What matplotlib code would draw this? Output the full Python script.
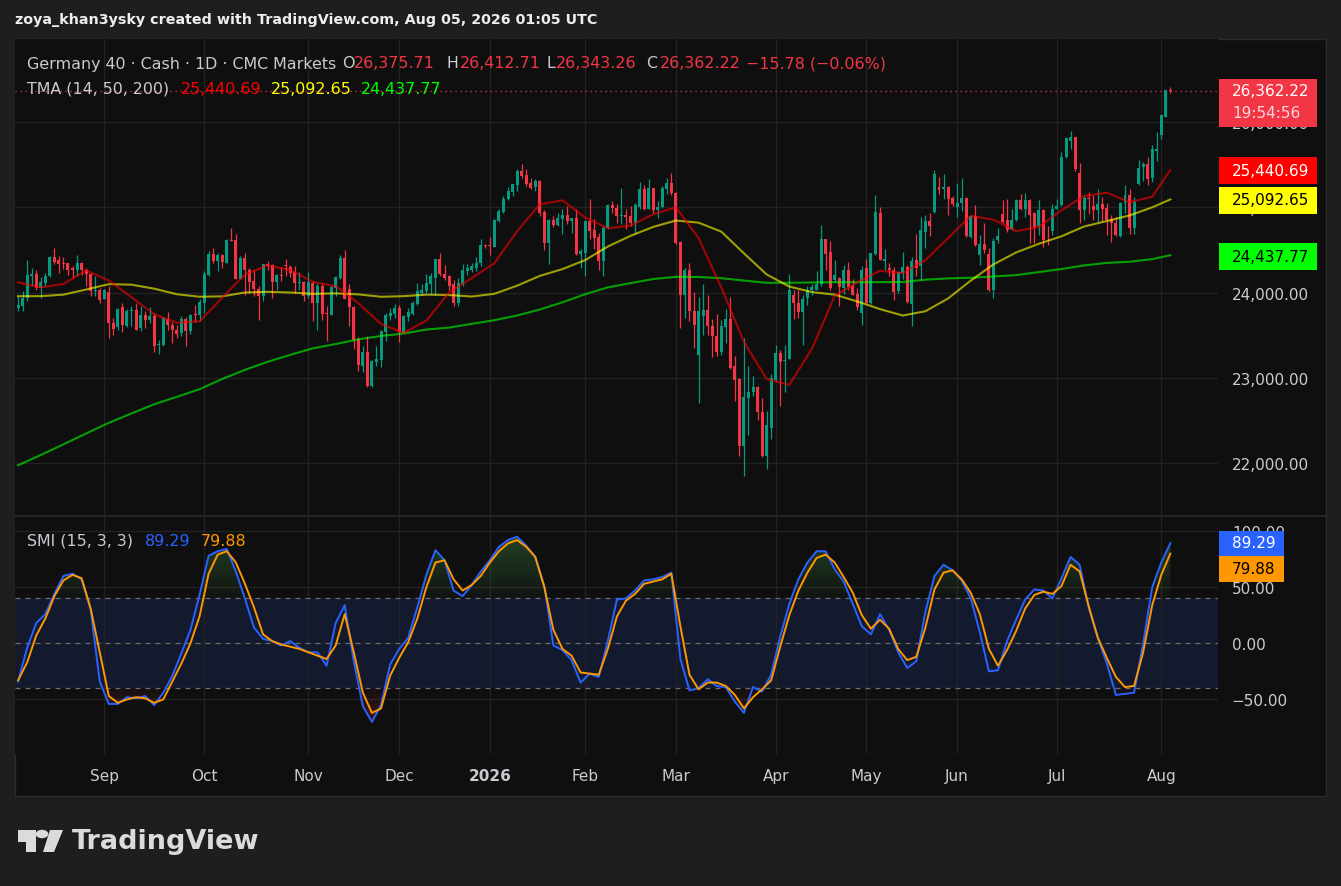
import numpy as np
import pandas as pd
import matplotlib
matplotlib.use("Agg")
import matplotlib.pyplot as plt
from matplotlib.patches import Rectangle, Polygon, Circle
from matplotlib.lines import Line2D
from matplotlib.path import Path
from matplotlib.ticker import FuncFormatter

plt.rcParams['font.family'] = 'DejaVu Sans'

# ---------------- data ----------------
start_day, end_day = '2025-08-05', '2026-08-05'
holidays = ['2025-12-24', '2025-12-25', '2025-12-26', '2026-01-01',
            '2026-04-03', '2026-04-06', '2026-05-01']

open_ = [23820, 23847, 23937, 24192, 24220, 24055, 24106, 24192, 24416, 24376,
         24341, 24341, 24290, 24270, 24341, 24270, 24212, 24016, 24035, 23929,
         24004, 23643, 23592, 23824, 23604, 23780, 23800, 23584, 23741, 23682,
         23722, 23388, 23380, 23694, 23624, 23565, 23526, 23694, 23553, 23745,
         23733, 23871, 24200, 24447, 24368, 24435, 24349, 24615, 24615, 24161,
         24400, 24270, 24133, 24043, 23957, 24329, 24318, 24122, 24200, 24318,
         24298, 24239, 24114, 24122, 23957, 24114, 23871, 24082, 23765, 23741,
         24055, 24165, 24400, 24043, 23831, 23459, 23141, 23298, 22898, 23189,
         23212, 23537, 23722, 23753, 23820, 23526, 23714, 23753, 23863, 23996,
         24012, 24098, 24176, 24388, 24223, 24192, 24094, 23871, 24102, 24251,
         24270, 24286, 24341, 24557, 24553, 24533, 24839, 24945, 25094, 25184,
         25262, 25427, 25376, 25282, 25239, 25309, 24945, 24576, 24851, 24788,
         24866, 24905, 24839, 24870, 24447, 24466, 24839, 24733, 24655, 24368,
         24753, 25023, 24996, 24902, 24906, 24898, 24811, 25007, 25211, 24984,
         25223, 24968, 25004, 25211, 25282, 25172, 24592, 23969, 24259, 23788,
         23263, 23722, 23800, 23612, 23494, 23302, 23596, 23694, 23134, 22989,
         22193, 22761, 22828, 22891, 22597, 22076, 22405, 22977, 23290, 23196,
         23224, 23976, 23871, 23769, 23937, 24035, 24035, 24094, 24623, 24478,
         24145, 24172, 24055, 24259, 24074, 23984, 23761, 24290, 23871, 24447,
         24929, 24368, 24282, 24270, 24016, 24231, 24302, 23863, 24376, 24310,
         24710, 24835, 24945, 25239, 25211, 25239, 25105, 25004, 25055, 25109,
         24651, 24898, 24439, 24564, 24447, 24035, 24612, 24917, 24847, 24741,
         24847, 25082, 24976, 25082, 24929, 24780, 24964, 24737, 24721, 24984,
         25023, 25595, 25780, 25823, 25407, 24968, 25109, 25015, 24964, 25035,
         24988, 24858, 24819, 24662, 25047, 25141, 24753, 25270, 25474, 25505,
         25341, 25662, 25846, 26066, 26375.71]

high_ = [23957, 24016, 24376, 24290, 24270, 24180, 24231, 24427, 24525, 24427,
         24419, 24349, 24310, 24435, 24357, 24290, 24231, 24192, 24055, 24043,
         24074, 23702, 23820, 23878, 23808, 23847, 23871, 23839, 23780, 23831,
         23761, 23447, 23710, 23773, 23655, 23624, 23722, 23710, 23753, 23859,
         23918, 24251, 24486, 24525, 24466, 24447, 24623, 24760, 24682, 24427,
         24466, 24290, 24270, 24074, 24329, 24368, 24329, 24212, 24298, 24388,
         24318, 24310, 24239, 24133, 24239, 24133, 24114, 24094, 23839, 24074,
         24192, 24435, 24494, 24094, 23839, 23475, 23369, 23494, 23212, 23377,
         23565, 23761, 23820, 23867, 23859, 23733, 23820, 23898, 24114, 24094,
         24212, 24231, 24395, 24466, 24318, 24200, 24141, 24172, 24329, 24329,
         24349, 24419, 24623, 24572, 24655, 24866, 24976, 25133, 25243, 25278,
         25454, 25505, 25446, 25348, 25337, 25315, 24964, 24858, 24898, 24929,
         24976, 25015, 24878, 24976, 24506, 24847, 25094, 24866, 24702, 24780,
         25035, 25074, 25035, 25223, 24976, 25015, 25047, 25301, 25258, 25329,
         25231, 25074, 25250, 25341, 25399, 25180, 24604, 24282, 24349, 24008,
         23945, 24094, 23976, 23690, 23753, 23682, 23812, 23945, 23259, 22996,
         23467, 23133, 23024, 22906, 22761, 22604, 23043, 23388, 23322, 23380,
         24220, 24024, 24035, 23976, 24082, 24102, 24251, 24788, 24630, 24604,
         24376, 24184, 24318, 24361, 24153, 24055, 24310, 24396, 24466, 25141,
         25004, 24514, 24349, 24302, 24251, 24478, 24318, 24419, 24682, 24886,
         24906, 24937, 25435, 25360, 25388, 25250, 25133, 25290, 25348, 25121,
         24906, 25023, 24674, 24811, 24525, 24643, 24753, 25082, 25102, 24976,
         25094, 25160, 25164, 25102, 24945, 25082, 24976, 24780, 25035, 25094,
         25650, 25831, 25897, 25831, 25517, 25133, 25180, 25141, 25211, 25125,
         25055, 24906, 24890, 25062, 25258, 25219, 25125, 25556, 25533, 25595,
         25729, 25886, 26093, 26380, 26412.71]

low_ = [23780, 23788, 23898, 24082, 24035, 23937, 24074, 24184, 24329, 24231,
        24278, 24200, 24172, 24192, 24200, 24074, 23957, 23957, 23878, 23918,
        23463, 23502, 23565, 23533, 23596, 23612, 23560, 23545, 23584, 23643,
        23302, 23279, 23377, 23565, 23408, 23467, 23486, 23369, 23518, 23655,
        23663, 23761, 24195, 24349, 24251, 24290, 24341, 24600, 24153, 24153,
        23976, 23996, 23957, 23675, 23898, 24270, 23937, 24024, 24133, 24192,
        24180, 23996, 24035, 23898, 23937, 23663, 23565, 23675, 23435, 23735,
        23957, 24153, 23918, 23604, 23341, 23075, 23063, 22890, 22891, 23134,
        23126, 23428, 23682, 23702, 23416, 23520, 23663, 23741, 23859, 23976,
        23996, 23984, 23976, 24192, 24145, 24035, 23847, 23839, 24074, 24200,
        24239, 24251, 24310, 24525, 24439, 24530, 24827, 24937, 25086, 25133,
        25192, 25348, 25250, 25219, 25192, 24898, 24498, 24329, 24772, 24780,
        24682, 24800, 24702, 24435, 24290, 24192, 24623, 24513, 24263, 24192,
        24741, 24937, 24819, 24800, 24741, 24780, 24682, 24984, 24968, 24976,
        24937, 24878, 24996, 25152, 25141, 24564, 23584, 23702, 23663, 23349,
        22702, 23506, 23506, 23240, 23251, 23271, 23408, 23102, 22722, 22076,
        21840, 22330, 22789, 22506, 22067, 21926, 22279, 22965, 22663, 22828,
        23220, 23690, 23702, 23381, 23851, 23976, 24027, 24082, 24270, 24024,
        24122, 23847, 23988, 24024, 23965, 23800, 23616, 23871, 23867, 24440,
        24376, 24263, 24192, 23910, 23996, 24153, 23878, 23612, 24192, 24141,
        24525, 24662, 24937, 25152, 25094, 24909, 25015, 24890, 24956, 24651,
        24643, 24545, 24318, 24459, 24020, 23933, 24584, 24819, 24713, 24733,
        24839, 24968, 24890, 24584, 24576, 24670, 24533, 24561, 24670, 24980,
        25015, 25584, 25682, 25427, 24811, 24851, 24917, 24851, 24827, 24839,
        24670, 24592, 24665, 24655, 24937, 24682, 24682, 25265, 25309, 25258,
        25298, 25544, 25799, 26060, 26343.26]

close_ = [23859, 23937, 24200, 24212, 24055, 24125, 24188, 24416, 24357, 24329,
          24333, 24270, 24263, 24341, 24263, 24212, 24016, 24035, 23910, 24035,
          23643, 23577, 23812, 23624, 23780, 23792, 23565, 23741, 23682, 23722,
          23369, 23400, 23702, 23624, 23561, 23518, 23694, 23553, 23733, 23737,
          23886, 24212, 24447, 24368, 24435, 24357, 24615, 24608, 24161, 24400,
          24263, 24122, 24043, 23957, 24329, 24310, 24122, 24200, 24192, 24310,
          24231, 24114, 24125, 23957, 24122, 23871, 24082, 23753, 23753, 24063,
          24180, 24400, 23925, 23827, 23439, 23145, 23298, 22898, 23200, 23224,
          23553, 23733, 23761, 23820, 23533, 23722, 23769, 23871, 24012, 24024,
          24106, 24192, 24388, 24212, 24172, 24082, 23871, 24114, 24259, 24282,
          24310, 24349, 24553, 24549, 24545, 24847, 24956, 25102, 25192, 25270,
          25427, 25368, 25270, 25231, 25309, 24929, 24576, 24851, 24788, 24878,
          24905, 24839, 24870, 24447, 24486, 24839, 24721, 24643, 24369, 24760,
          25023, 24988, 24898, 24909, 24886, 24811, 25023, 25211, 24984, 25223,
          24968, 25007, 25223, 25282, 25172, 24576, 23969, 24259, 23780, 23624,
          23788, 23800, 23604, 23486, 23302, 23604, 23694, 23114, 22977, 22193,
          22769, 22832, 22891, 22593, 22076, 22440, 22996, 23290, 23181, 23204,
          24024, 23871, 23769, 23925, 24035, 24063, 24094, 24623, 24447, 24055,
          24200, 24067, 24259, 24063, 23976, 23827, 24270, 23878, 24459, 24945,
          24380, 24388, 24259, 24004, 24243, 24302, 23886, 24365, 24290, 24729,
          24835, 24780, 25388, 25203, 25239, 25094, 25035, 25055, 25105, 24662,
          24898, 24557, 24564, 24494, 24027, 24600, 24662, 24827, 24729, 24847,
          25082, 24976, 25082, 24909, 24768, 24964, 24612, 24729, 24984, 25011,
          25595, 25811, 25823, 25446, 24968, 25105, 25102, 24964, 25035, 24976,
          24851, 24811, 24670, 25047, 25141, 24760, 25066, 25466, 25505, 25329,
          25682, 25690, 26082, 26376, 26362.22]

# moving averages sampled every 5 sessions, last point on the final bar
ma_step = 5
ma14 = [24120, 24060, 24100, 24260, 24140, 23945, 23745, 23645, 23660, 23940,
        24210, 24320, 24265, 24125, 24074, 23875, 23630, 23525, 23670, 24000,
        24170, 24345, 24720, 25035, 25082, 24880, 24755, 24785, 24920, 25000,
        24640, 24060, 23420, 22985, 22915, 23340, 23960, 24120, 24255, 24228,
        24380, 24640, 24900, 24855, 24721, 24770, 24965, 25133, 25172, 25060,
        25125, 25440.69]
ma50 = [23957, 23957, 23975, 24035, 24098, 24092, 24045, 23980, 23950, 23955,
        24000, 24008, 24000, 23984, 23990, 23978, 23950, 23957, 23975, 23970,
        23953, 23985, 24080, 24195, 24275, 24380, 24540, 24665, 24770, 24845,
        24820, 24715, 24460, 24212, 24070, 24005, 23975, 23895, 23805, 23730,
        23780, 23930, 24140, 24330, 24470, 24572, 24660, 24775, 24839, 24905,
        25000, 25092.65]
ma200 = [21972, 22092, 22218, 22345, 22470, 22580, 22688, 22775, 22865, 22985,
         23092, 23186, 23268, 23345, 23395, 23450, 23490, 23518, 23565, 23588,
         23632, 23675, 23730, 23800, 23885, 23980, 24060, 24110, 24158, 24184,
         24182, 24168, 24140, 24114, 24114, 24118, 24121, 24121, 24122, 24123,
         24150, 24166, 24173, 24188, 24204, 24240, 24276, 24318, 24348, 24361,
         24392, 24437.77]

# SMI (15, 3, 3) sampled every 2 sessions
smi_step = 2
smi = [-34, -4, 18, 26, 44, 60, 62, 57, 30, -34,
       -54, -54, -48, -49, -47, -55, -44, -29, -9, 12,
       43, 78, 82, 84, 64, 40, 14, 4, 2, -2,
       2, -4, -8, -8, -20, 18, 34, -16, -56, -70,
       -55, -19, -5, 5, 32, 61, 83, 74, 47, 42,
       52, 64, 74, 86, 92, 95, 87, 77, 51, -2,
       -6, -15, -35, -27, -30, 2, 39, 40, 47, 56,
       57, 59, 63, -14, -42, -40, -32, -38, -39, -52,
       -62, -39, -43, -28, 6, 35, 57, 72, 82, 82,
       66, 55, 35, 15, 8, 26, 12, -8, -22, -16,
       28, 60, 70, 65, 56, 40, 10, -25, -24, 2,
       21, 39, 48, 47, 40, 58, 77, 70, 32, 5,
       -18, -46, -45, -44, 0, 50, 72, 89.29]
smi_signal = [-33, -17, 7, 22, 42, 56, 61, 58, 31, -8,
              -47, -53, -50, -48, -49, -53, -50, -34, -18, 0,
              24, 62, 79, 82, 72, 53, 32, 8, 2, -1,
              -3, -5, -8, -11, -14, -2, 26, -8, -44, -62,
              -58, -29, -13, 1, 22, 50, 72, 74, 57, 47,
              52, 60, 72, 82, 89, 92, 86, 77, 50, 12,
              -5, -11, -26, -27, -28, -5, 24, 38, 44, 53,
              55, 57, 62, 15, -28, -41, -35, -35, -38, -46,
              -58, -48, -41, -33, -3, 25, 47, 63, 76, 79,
              72, 59, 45, 25, 13, 21, 13, -5, -15, -12,
              14, 48, 63, 65, 57, 45, 26, -5, -20, -6,
              11, 31, 43, 46, 44, 51, 70, 64, 33, 5,
              -13, -30, -39, -38, -8, 34, 61, 79.88]

price_ticks = [22000, 23000, 24000, 25000, 26000]
smi_ticks = [-50, 0, 50, 100]
change_text = '\u221215.78 (\u22120.06%)'
countdown = '19:54:56'

# ---------------- styling ----------------
W, H = 1341, 887
OUTER = '#1e1e1e'
BG = '#0f0f0f'
GRID = '#222222'
TXT = '#c9cbd1'
UP, DOWN = '#089981', '#f23645'

fig = plt.figure(figsize=(W / 100, H / 100), dpi=100)
fig.patch.set_facecolor(OUTER)


def frac(l, t, r, b):
    return [l / W, 1 - b / H, (r - l) / W, (b - t) / H]


def fpt(xp, yp):
    return (xp / W, 1 - yp / H)


def ftext(xp, yp, s, color=TXT, size=11.4, **kw):
    fig.text(xp / W, 1 - yp / H, s, color=color, fontsize=size, va='center', ha='left', **kw)


fig.add_artist(Rectangle(fpt(15, 797), 1311 / W, 757 / H, transform=fig.transFigure,
                         facecolor=BG, edgecolor='#2b2b2b', lw=1, zorder=0))

# sessions and month boundaries
days = pd.bdate_range(start_day, end_day)
days = days[~days.isin(pd.to_datetime(holidays))]
months = days.to_period('M')
month_idx = [i for i in range(1, len(days)) if months[i] != months[i - 1]]
month_lab = [days[i].strftime('%Y') if days[i].month == 1 else days[i].strftime('%b') for i in month_idx]

o = np.array(open_, float)
h = np.array(high_, float)
l = np.array(low_, float)
c = np.array(close_, float)
x = np.arange(len(c))
ma_x = list(range(0, len(c) - 1, ma_step))[:len(ma14) - 1] + [len(c) - 1]
smi_x = np.arange(0, len(c), smi_step)
xlim = (-0.68, 264.5)

# ---------------- price pane ----------------
ax = fig.add_axes(frac(15, 40, 1218, 516))
ax.set_facecolor(BG)
cols = np.where(c >= o, UP, DOWN)
ax.vlines(x, l, h, colors=cols, lw=0.9, zorder=3)
ax.bar(x, np.maximum(np.abs(c - o), 10), bottom=np.minimum(o, c), width=0.66,
       color=cols, lw=0, zorder=4)
ax.plot(ma_x, ma200, color='#00ff00', alpha=0.6, lw=1.5, zorder=5)
ax.plot(ma_x, ma50, color='#ffff00', alpha=0.6, lw=1.5, zorder=5)
ax.plot(ma_x, ma14, color='#ff0000', alpha=0.6, lw=1.5, zorder=5)
ax.axhline(c[-1], color=DOWN, lw=0.9, ls=(0, (1, 3)), zorder=2)

ax.set_xlim(*xlim)
ax.set_ylim(21388, 26976)
ax.set_yticks(price_ticks)
ax.yaxis.tick_right()
ax.yaxis.set_major_formatter(FuncFormatter(lambda v, p: f'{v:,.2f}'))
ax.tick_params(axis='y', length=0, pad=10, labelsize=11, labelcolor=TXT)
ax.set_xticks(month_idx)
ax.tick_params(axis='x', length=0, labelbottom=False)
ax.grid(True, color=GRID, lw=1)
ax.set_axisbelow(True)
for s in ax.spines.values():
    s.set_visible(False)

# ---------------- SMI pane ----------------
ax2 = fig.add_axes(frac(15, 517, 1218, 755))
ax2.set_facecolor(BG)
ax2.axhspan(-40, 40, color='#131a2e', lw=0, zorder=0.3)
for lvl in (40, 0, -40):
    ax2.axhline(lvl, color='#6a6d78', lw=0.9, ls=(0, (4, 4)), zorder=1)


def grad_fill(axis, xs, ys, level, far, rgb):
    ys = np.asarray(ys, float)
    mask = ys > level if far > level else ys < level
    coll = axis.fill_between(xs, ys, level, where=mask, interpolate=True,
                             facecolor='none', lw=0)
    paths = coll.get_paths()
    if not paths:
        return
    clip = Path.make_compound_path(*paths)
    ramp = np.linspace(0, 1, 120)
    if far < level:
        ramp = ramp[::-1]
    img = np.zeros((120, 1, 4))
    img[..., :3] = rgb
    img[:, 0, 3] = 0.03 + 0.32 * ramp
    lo, hi = min(level, far), max(level, far)
    im = axis.imshow(img, extent=[xs[0], xs[-1], lo, hi], origin='lower',
                     aspect='auto', zorder=1.5, interpolation='bilinear')
    im.set_clip_path(clip, transform=axis.transData)


grad_fill(ax2, smi_x, smi, 40, 100, (0.30, 0.69, 0.31))
grad_fill(ax2, smi_x, smi, -40, -100, (0.95, 0.21, 0.27))
ax2.plot(smi_x, smi, color='#2962ff', lw=1.4, zorder=3)
ax2.plot(smi_x, smi_signal, color='#ff9800', lw=1.4, zorder=4)

ax2.set_xlim(*xlim)
ax2.set_ylim(-98.6, 113.4)
ax2.set_yticks(smi_ticks)
ax2.yaxis.tick_right()
ax2.yaxis.set_major_formatter(FuncFormatter(lambda v, p: f'{v:.2f}'.replace('-', '\u2212')))
ax2.tick_params(axis='y', length=0, pad=10, labelsize=11, labelcolor=TXT)
ax2.set_xticks(month_idx)
ax2.set_xticklabels(month_lab)
ax2.tick_params(axis='x', length=0, pad=10, labelsize=11, labelcolor=TXT)
for lab in ax2.get_xticklabels():
    if lab.get_text().isdigit():
        lab.set_fontweight('bold')
ax2.grid(True, color=GRID, lw=1)
ax2.set_axisbelow(True)
for s in ax2.spines.values():
    s.set_visible(False)

fig.add_artist(Line2D([15 / W, 1326 / W], [1 - 516.5 / H] * 2, color='#2b2b2b', lw=1.2,
                      transform=fig.transFigure, zorder=3))

# ---------------- legends ----------------
ftext(15, 20, 'zoya_khan3ysky created with TradingView.com, Aug 05, 2026 01:05 UTC',
      color='#eeeeee', size=10.3, fontweight='bold')

ftext(27, 64, 'Germany 40 \u00b7 Cash \u00b7 1D \u00b7 CMC Markets')
ftext(342, 64, 'O')
ftext(354, 64, f'{open_[-1]:,.2f}', color=DOWN)
ftext(447, 64, 'H')
ftext(460, 64, f'{high_[-1]:,.2f}', color=DOWN)
ftext(546, 64, 'L')
ftext(556, 64, f'{low_[-1]:,.2f}', color=DOWN)
ftext(646, 64, 'C')
ftext(660, 64, f'{close_[-1]:,.2f}', color=DOWN)
ftext(746, 64, change_text, color=DOWN)

ftext(27, 89, 'TMA (14, 50, 200)')
ftext(181, 89, f'{ma14[-1]:,.2f}', color='#ff0000')
ftext(271, 89, f'{ma50[-1]:,.2f}', color='#ffff00')
ftext(361, 89, f'{ma200[-1]:,.2f}', color='#00ff00')

ftext(27, 541, 'SMI (15, 3, 3)')
ftext(145, 541, f'{smi[-1]:.2f}', color='#2962ff')
ftext(201, 541, f'{smi_signal[-1]:.2f}', color='#ff9800')


def tag(top, bottom, face, lines, right=1317):
    fig.add_artist(Rectangle(fpt(1219, bottom), (right - 1219) / W, (bottom - top) / H,
                             transform=fig.transFigure, facecolor=face, lw=0, zorder=3))
    for txt, yp, col in lines:
        fig.text(1232 / W, 1 - yp / H, txt, color=col, fontsize=11, va='center',
                 ha='left', zorder=4)


tag(80, 128, DOWN, [(f'{close_[-1]:,.2f}', 92, 'white'), (countdown, 114, '#fcd7db')])
tag(158, 185, '#ff0000', [(f'{ma14[-1]:,.2f}', 171, 'white')])
tag(188, 215, '#ffff00', [(f'{ma50[-1]:,.2f}', 201, 'black')])
tag(244, 271, '#00ff00', [(f'{ma200[-1]:,.2f}', 257, 'black')])
tag(532, 557, '#2962ff', [(f'{smi[-1]:.2f}', 544, 'white')], right=1284)
tag(557, 583, '#ff9800', [(f'{smi_signal[-1]:.2f}', 570, 'black')], right=1284)

# ---------------- TradingView logo ----------------
LOGO = '#dbdbdb'
fig.add_artist(Polygon([fpt(18, 831), fpt(36, 831), fpt(36, 853), fpt(26, 853),
                        fpt(26, 843), fpt(18, 843)], closed=True, transform=fig.transFigure,
                       facecolor=LOGO, lw=0, zorder=3))
fig.add_artist(Circle(fpt(42, 835), 4.2 / H, transform=fig.transFigure, facecolor=LOGO,
                      lw=0, zorder=3))
fig.add_artist(Polygon([fpt(50, 831), fpt(63, 831), fpt(54, 853), fpt(43, 853)], closed=True,
                       transform=fig.transFigure, facecolor=LOGO, lw=0, zorder=3))
ftext(72, 842, 'TradingView', color=LOGO, size=19.5, fontweight='bold')

fig.savefig('out.png', dpi=100, facecolor=OUTER)
